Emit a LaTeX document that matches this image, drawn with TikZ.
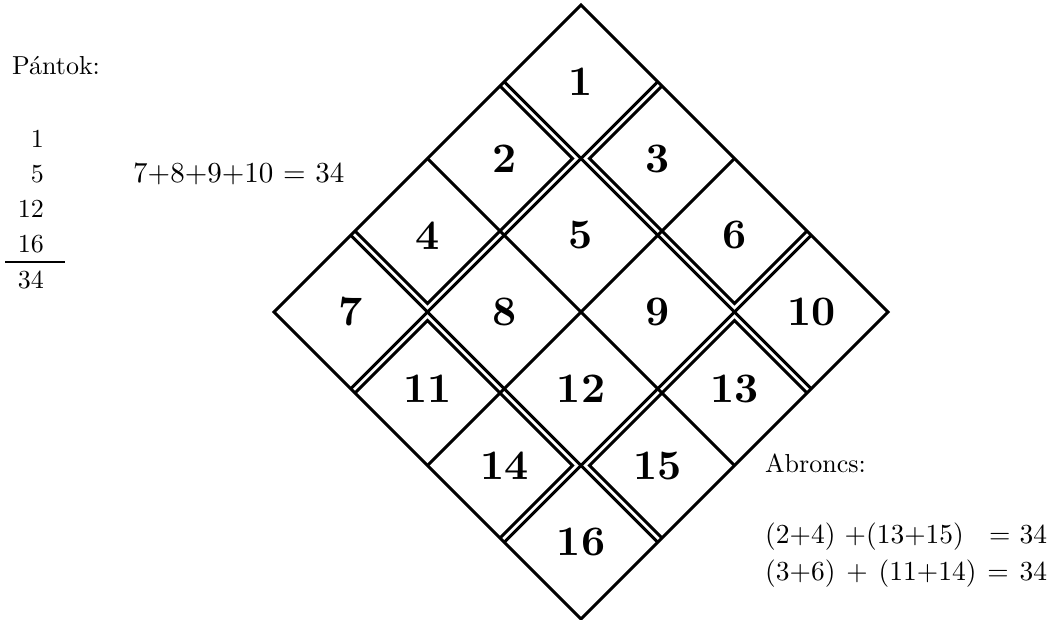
\documentclass[tikz,border=0pt]{standalone}
\usepackage{fontspec}
\setmainfont{lmroman10-regular.otf}[BoldFont=lmroman10-bold.otf]
\begin{document}
\begin{tikzpicture}[
  x=1pt, y=-1pt,
  frame/.style={line width=3pt,line join=miter},
  num/.style={font=\fontsize{42}{42}\selectfont\bfseries,inner sep=0pt},
  txt/.style={font=\fontsize{26}{31}\selectfont,inner sep=0pt},
  eqn/.style={txt,font=\fontsize{27.5}{33}\selectfont,anchor=base west},
]
  \useasboundingbox (0,0) rectangle (1054,620);
  % left column
  \node[txt,anchor=base west] (pantok) at (12,75) {Pántok:};
  \node[txt,anchor=base east] (p1)  at (44,148) {1};
  \node[txt,anchor=base east] (p5)  at (44,183) {5};
  \node[txt,anchor=base east] (p12) at (44,218) {12};
  \node[txt,anchor=base east] (p16) at (44,253) {16};
  \draw[line width=2pt] (5,262) -- (65,262);
  \node[txt,anchor=base east] (psum) at (44,288) {34};
  \node[txt,font=\fontsize{29}{35}\selectfont,anchor=base west] (row) at (133,183) {7+8+9+10 = 34};
  % right column
  \node[txt,anchor=base west] (abroncs) at (765,472) {Abroncs:};
  \node[eqn] (eq1) at (765,543) {\makebox[282pt][l]{(2+4) +(13+15)\hfill= 34}};
  \node[eqn] (eq2) at (765,580) {\makebox[282pt][s]{(3+6) + (11+14) = 34}};
  % the square, turned
  \begin{scope}[shift={(581,5)}, x={(-76.75pt,-76.75pt)}, y={(76.75pt,-76.75pt)}]
    \draw[frame] (0,0) -- (4,0) -- (4,4) -- (0,4) -- cycle;
    \foreach \k in {1,2,3} {
      \draw[frame] (\k,0) -- (\k,4);
      \draw[frame] (0,\k) -- (4,\k);
    }
    % inner borders of the hoops
    \draw[frame] (1.055,0) -- (1.055,0.945) -- (2.945,0.945) -- (2.945,0);
    \draw[frame] (0,1.055) -- (0.945,1.055) -- (0.945,2.945) -- (0,2.945);
    \draw[frame] (4,1.055) -- (3.055,1.055) -- (3.055,2.945) -- (4,2.945);
    \draw[frame] (1.055,4) -- (1.055,3.055) -- (2.945,3.055) -- (2.945,4);
    \node[num] (c1)  at (0.5,0.5) {1};
    \node[num] (c2)  at (1.5,0.5) {2};
    \node[num] (c3)  at (0.5,1.5) {3};
    \node[num] (c4)  at (2.5,0.5) {4};
    \node[num] (c5)  at (1.5,1.5) {5};
    \node[num] (c6)  at (0.5,2.5) {6};
    \node[num] (c7)  at (3.5,0.5) {7};
    \node[num] (c8)  at (2.5,1.5) {8};
    \node[num] (c9)  at (1.5,2.5) {9};
    \node[num] (c10) at (0.5,3.5) {10};
    \node[num] (c11) at (3.5,1.5) {11};
    \node[num] (c12) at (2.5,2.5) {12};
    \node[num] (c13) at (1.5,3.5) {13};
    \node[num] (c14) at (3.5,2.5) {14};
    \node[num] (c15) at (2.5,3.5) {15};
    \node[num] (c16) at (3.5,3.5) {16};
  \end{scope}
\end{tikzpicture}
\end{document}
